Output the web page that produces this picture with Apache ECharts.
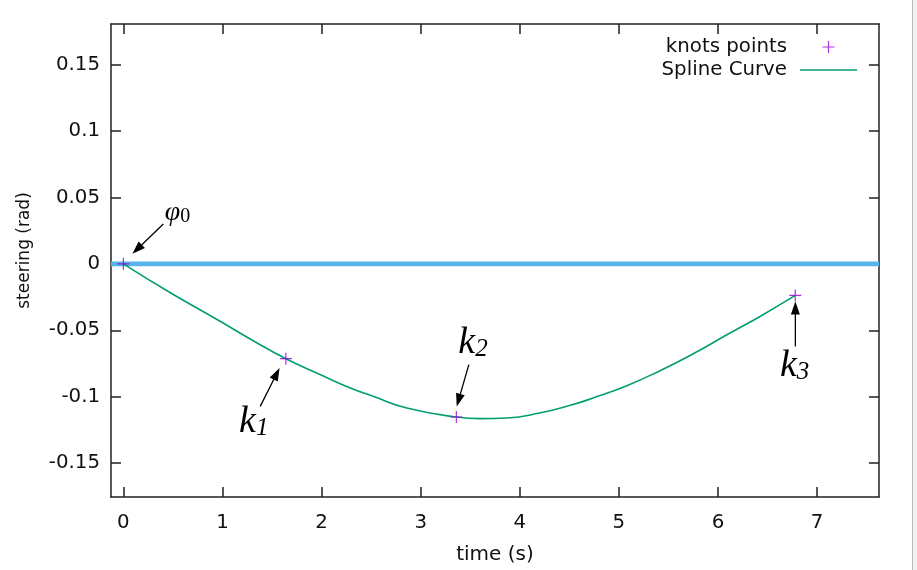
<!DOCTYPE html>
<html><head><meta charset="utf-8">
<script src="https://cdn.jsdelivr.net/npm/echarts@6/dist/echarts.min.js"></script>
<style>html,body{margin:0;padding:0;background:#fff}#c{width:917px;height:570px}</style>
</head><body><div id="c"></div>
<script>
// ---- data ----
const xTicks = [0, 1, 2, 3, 4, 5, 6, 7];
const yTicks = [-0.15, -0.1, -0.05, 0, 0.05, 0.1, 0.15];
const knotT = [0, 1.64, 3.36, 6.78];
const knotV = [0, -0.0714, -0.1153, -0.0238];
const splineT = [0, 0.47, 0.98, 1.31, 1.64, 1.99, 2.29, 2.52, 2.86, 3.36, 3.60, 3.87, 4.20, 4.51, 4.74, 5.08, 5.41, 5.75, 6.09, 6.42, 6.78];
const splineV = [0, -0.0216, -0.0434, -0.0579, -0.0714, -0.0835, -0.0935, -0.0997, -0.1085, -0.1153, -0.1165, -0.1160, -0.1123, -0.1065, -0.1010, -0.0917, -0.0806, -0.0677, -0.0534, -0.0398, -0.0238];
const zeroT = [-0.125, 7.625];
const zeroV = [0, 0];
// annotations (data coordinates)
const annMain = ['φ', 'k', 'k', 'k'];
const annSub = ['0', '1', '2', '3'];
const annX = [0.545, 1.316, 3.528, 6.774];
const annY = [0.0383, -0.1188, -0.0594, -0.0767];
const arrFromX = [0.403, 1.381, 3.486, 6.781];
const arrFromY = [0.030, -0.1073, -0.0759, -0.0622];
const arrTipX = [0.091, 1.576, 3.364, 6.781];
const arrTipY = [0.0075, -0.0784, -0.1073, -0.0283];

const xMin = -0.125, xMax = 7.625, yMin = -0.1755, yMax = 0.1805;
const FONT = 'DejaVu Sans';
const FS = 19.8;
const axisCol = '#222';
const txtCol = '#111';

function pairs(a, b) { return a.map((v, i) => [v, b[i]]); }

const chart = echarts.init(document.getElementById('c'), null, {renderer: 'canvas'});

const plusPath = 'path://M0,5.4H12V6.6H0Z M5.4,0H6.6V12H5.4Z';
const plusLegend = 'path://M0,0M65,13M30.5,5.9H42.5V7.1H30.5ZM35.9,0.5H37.1V12.5H35.9Z';
const lineLegend = 'path://M0,0M65,13M8,5.7H65V7.3H8Z';

const baseAxis = {
  type: 'value',
  splitLine: {show: false},
  axisLine: {show: true, onZero: false, lineStyle: {color: axisCol, width: 1.5}},
  axisTick: {show: true, inside: true, length: 10, lineStyle: {color: axisCol, width: 1.5}},
};

function renderArrow(params, api) {
  const p0 = api.coord([api.value(0), api.value(1)]);
  const p1 = api.coord([api.value(2), api.value(3)]);
  const dx = p1[0] - p0[0], dy = p1[1] - p0[1];
  const len = Math.sqrt(dx * dx + dy * dy);
  const ux = dx / len, uy = dy / len;
  const hl = 13, hw = 4.5;
  const bx = p1[0] - ux * hl, by = p1[1] - uy * hl;
  return {
    type: 'group',
    children: [
      {type: 'line', shape: {x1: p0[0], y1: p0[1], x2: bx + ux * 2, y2: by + uy * 2},
        style: {stroke: '#000', lineWidth: 1.3}},
      {type: 'polygon', shape: {points: [[p1[0], p1[1]], [bx - uy * hw, by + ux * hw], [bx + uy * hw, by - ux * hw]]},
        style: {fill: '#000'}}
    ]
  };
}

const option = {
  animation: false,
  backgroundColor: '#fff',
  textStyle: {fontFamily: FONT},
  grid: {left: 111, right: 38, top: 24, bottom: 73, containLabel: false},
  legend: [
    {
      data: [{name: 'knots points', icon: plusLegend}], right: 55, top: 32, orient: 'vertical', align: 'right',
      itemWidth: 65, itemHeight: 13,
      textStyle: {fontFamily: FONT, fontSize: FS, color: txtCol},
      selectedMode: false
    },
    {
      data: [{name: 'Spline Curve', icon: lineLegend}], right: 55, top: 55, orient: 'vertical', align: 'right',
      itemWidth: 65, itemHeight: 13,
      textStyle: {fontFamily: FONT, fontSize: FS, color: txtCol},
      selectedMode: false
    }
  ],
  xAxis: [
    Object.assign({}, baseAxis, {
      position: 'bottom', min: xMin, max: xMax,
      axisTick: Object.assign({}, baseAxis.axisTick, {customValues: xTicks}),
      axisLabel: {customValues: xTicks, fontSize: FS, color: txtCol, margin: 16, fontFamily: FONT},
      name: 'time (s)', nameLocation: 'middle', nameGap: 48,
      nameTextStyle: {fontSize: 20, color: txtCol, fontFamily: FONT}
    }),
    Object.assign({}, baseAxis, {
      position: 'top', min: xMin, max: xMax,
      axisTick: Object.assign({}, baseAxis.axisTick, {customValues: xTicks}),
      axisLabel: {show: false}
    })
  ],
  yAxis: [
    Object.assign({}, baseAxis, {
      position: 'left', min: yMin, max: yMax,
      axisTick: Object.assign({}, baseAxis.axisTick, {customValues: yTicks}),
      axisLabel: {customValues: yTicks, fontSize: FS, color: txtCol, margin: 11, fontFamily: FONT},
      name: 'steering (rad)', nameLocation: 'middle', nameGap: 78,
      nameTextStyle: {fontSize: 17, color: txtCol, fontFamily: FONT, padding: [0, 0, 0, 20]}
    }),
    Object.assign({}, baseAxis, {
      position: 'right', min: yMin, max: yMax,
      axisTick: Object.assign({}, baseAxis.axisTick, {customValues: yTicks}),
      axisLabel: {show: false}
    })
  ],
  series: [
    {
      name: 'zero', type: 'line', data: pairs(zeroT, zeroV), showSymbol: false, symbol: 'none',
      lineStyle: {color: '#56B4E9', width: 4.8}, z: 1, clip: false, silent: true,
      markPoint: {
        silent: true, symbol: 'circle', symbolSize: 1, itemStyle: {color: 'rgba(0,0,0,0)'},
        data: annX.map((x, i) => ({
          coord: [x, annY[i]],
          label: {
            show: true, position: 'inside', formatter: '{m|' + annMain[i] + '}{s|' + annSub[i] + '}',
            rich: i === 0 ? {
              m: {fontFamily: 'Liberation Serif', fontStyle: 'italic', fontSize: 28, lineHeight: 28, color: '#000'},
              s: {fontFamily: 'Liberation Serif', fontSize: 20, lineHeight: 16, verticalAlign: 'bottom', color: '#000'}
            } : {
              m: {fontFamily: 'Liberation Serif', fontStyle: 'italic', fontSize: 38, lineHeight: 38, color: '#000'},
              s: {fontFamily: 'Liberation Serif', fontStyle: 'italic', fontSize: 25, lineHeight: 22, verticalAlign: 'bottom', color: '#000'}
            }
          }
        }))
      }
    },
    {
      name: 'arrows', type: 'custom', renderItem: renderArrow, silent: true, z: 4, clip: false,
      data: arrFromX.map((x, i) => [x, arrFromY[i], arrTipX[i], arrTipY[i]]),
      encode: {x: [0, 2], y: [1, 3]}
    },
    {
      name: 'Spline Curve', type: 'line', data: pairs(splineT, splineV), showSymbol: false, symbol: 'none',
      smooth: 0.5, lineStyle: {color: '#009E73', width: 1.6}, itemStyle: {color: '#009E73'}, z: 2
    },
    {
      name: 'knots points', type: 'scatter', data: pairs(knotT, knotV), symbol: plusPath, symbolSize: 12,
      itemStyle: {color: '#9400D3'}, z: 3
    }
  ],
  graphic: [
    {type: 'rect', shape: {x: 912, y: 0, width: 5, height: 570}, style: {fill: '#f2f2f2'}, silent: true},
    {type: 'line', shape: {x1: 912.5, y1: 0, x2: 912.5, y2: 570}, style: {stroke: '#bbb', lineWidth: 1}, silent: true}
  ]
};
chart.setOption(option);
</script>
</body></html>
